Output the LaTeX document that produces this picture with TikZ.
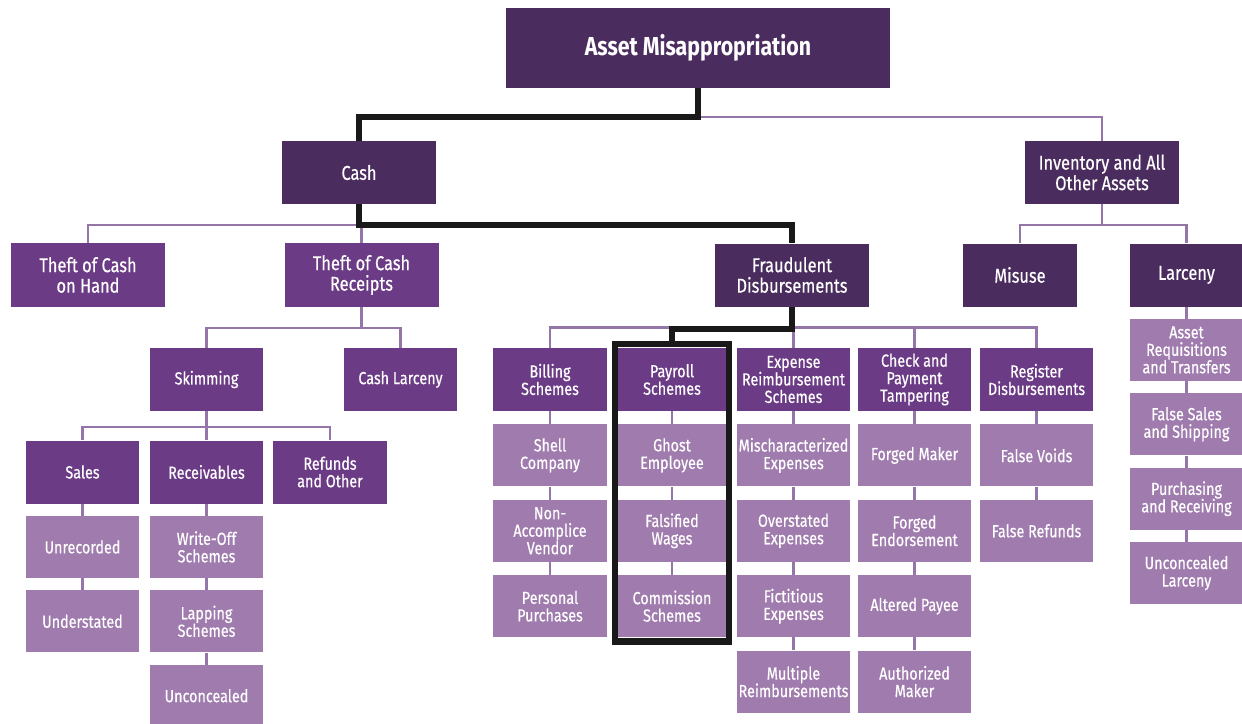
\documentclass[tikz,border=0pt]{standalone}
\usepackage{fontspec}
\setmainfont{Fira Sans}[FakeStretch=0.82]
\newfontfamily\boxfont{Fira Sans}[FakeStretch=0.82, FakeBold=0.5]
\usepackage{tikz}
\usepackage{xcolor}
\usetikzlibrary{positioning,fit}
\definecolor{plumdark}{HTML}{4B2C5E}
\definecolor{plummid}{HTML}{6C3B85}
\definecolor{plumlight}{HTML}{A07BAE}
\definecolor{plumwire}{HTML}{9476A9}
\tikzset{
  box/.style={ % every box of the tree
    rectangle, inner sep=0pt, text=white, align=center,
    font=\boxfont\fontsize{17.5}{17.5}\selectfont
  },
  dark/.style={ % top levels
    box, fill=plumdark, minimum width=154pt, minimum height=63pt,
    font=\boxfont\fontsize{20}{20.5}\selectfont
  },
  darksmall/.style={
    dark, minimum width=113.5pt
  },
  mid/.style={ % scheme families
    box, fill=plummid, minimum width=113.5pt, minimum height=63pt
  },
  midwide/.style={
    dark, fill=plummid, minimum height=64pt
  },
  leaf/.style={ % single schemes
    box, fill=plumlight, minimum width=113.5pt, minimum height=62pt
  },
  wire/.style={
    draw=plumwire, line width=2.5pt
  },
  trail/.style={ % the path that is followed
    draw=black!90, line width=6pt, line join=miter
  },
  frame/.style={
    draw=black!90, line width=6.5pt, inner xsep=0pt, inner ysep=4pt
  }
}
\begin{document}
\begin{tikzpicture}[x=1pt, y=-1pt]
    \useasboundingbox (0,0) rectangle (1242,723);

    \node[dark, minimum width=384pt, minimum height=80pt,
      font=\fontsize{26}{28}\selectfont\bfseries] (root) at (698,48) {Asset Misappropriation};

    \node[dark] (cash) at (359,172.5) {Cash};
    \node[dark] (inv) at (1102,172.5) {Inventory and All\\Other Assets};

    \node[midwide] (hand) at (88,275) {Theft of Cash\\on Hand};
    \node[midwide] (receipts) at (361.5,275) {Theft of Cash\\Receipts};
    \node[dark] (fraud) at (792,275) {Fraudulent\\Disbursements};
    \node[darksmall] (misuse) at (1020,275) {Misuse};
    \node[darksmall] (larc) at (1186.5,275) {Larceny};

    \node[mid] (skim) at (206.5,379.5) {Skimming};
    \node[mid] (cashlarc) at (400.5,379.5) {Cash Larceny};
    \node[mid] (billing) at (550,379.5) {Billing\\Schemes};
    \node[mid] (payroll) at (672,379.5) {Payroll\\Schemes};
    \node[mid] (expense) at (793.5,379.5) {Expense\\Reimbursement\\Schemes};
    \node[mid] (check) at (914.5,379.5) {Check and\\Payment\\Tampering};
    \node[mid] (register) at (1036.5,379.5) {Register\\Disbursements};

    \node[mid] (sales) at (82.5,472) {Sales};
    \node[mid] (recv) at (206.5,472) {Receivables};
    \node[mid] (refunds) at (330,472) {Refunds\\and Other};

    % skimming
    \node[leaf, below=12pt of sales] (unrec) {Unrecorded};
    \node[leaf, below=12pt of unrec] (under) {Understated};
    \node[leaf, below=12pt of recv] (writeoff) {Write-Off\\Schemes};
    \node[leaf, below=12pt of writeoff] (lapping) {Lapping\\Schemes};
    \node[leaf, below=12pt of lapping] (unconc) {Unconcealed};

    % fraudulent disbursements
    \node[leaf, below=13pt of billing] (shell) {Shell\\Company};
    \node[leaf, below=13pt of shell] (nonacc) {Non-\\Accomplice\\Vendor};
    \node[leaf, below=13pt of nonacc] (personal) {Personal\\Purchases};

    \node[leaf, below=13pt of payroll] (ghost) {Ghost\\Employee};
    \node[leaf, below=13pt of ghost] (falsified) {Falsified\\Wages};
    \node[leaf, below=13pt of falsified] (commission) {Commission\\Schemes};

    \node[leaf, below=13pt of expense] (mischar) {Mischaracterized\\Expenses};
    \node[leaf, below=13pt of mischar] (overst) {Overstated\\Expenses};
    \node[leaf, below=13pt of overst] (fictit) {Fictitious\\Expenses};
    \node[leaf, below=13pt of fictit] (multiple) {Multiple\\Reimbursements};

    \node[leaf, below=13pt of check] (fmaker) {Forged Maker};
    \node[leaf, below=13pt of fmaker] (fendorse) {Forged\\Endorsement};
    \node[leaf, below=13pt of fendorse] (altered) {Altered Payee};
    \node[leaf, below=13pt of altered] (authorized) {Authorized\\Maker};

    \node[leaf, below=13pt of register] (fvoids) {False Voids};
    \node[leaf, below=13pt of fvoids] (frefunds) {False Refunds};

    % larceny of other assets
    \node[leaf, below=12pt of larc] (assetreq) {Asset\\Requisitions\\and Transfers};
    \node[leaf, below=12pt of assetreq] (fsales) {False Sales\\and Shipping};
    \node[leaf, below=12pt of fsales] (purch) {Purchasing\\and Receiving};
    \node[leaf, below=12pt of purch] (unconclarc) {Unconcealed\\Larceny};

    \node[frame, fit=(payroll)(commission)] (payframe) {};

    % tree links
    \path[wire] (root.south) -- ++(0,29) -| (inv.north);
    \path[wire] (cash.south) -- ++(0,21) coordinate (cbus);
    \path[wire] (cbus) -| (hand.north);
    \path[wire] (cbus) -| (receipts.north);
    \path[wire] (inv.south) -- ++(0,21) coordinate (ibus);
    \path[wire] (ibus) -| (misuse.north);
    \path[wire] (ibus) -| (larc.north);
    \path[wire] (receipts.south) -- ++(0,21) coordinate (rbus);
    \path[wire] (rbus) -| (skim.north);
    \path[wire] (rbus) -| (cashlarc.north);
    \path[wire] (skim.south) -- ++(0,16) coordinate (sbus);
    \path[wire] (sbus) -| (sales.north);
    \path[wire] (sbus) -| (recv.north);
    \path[wire] (sbus) -| (refunds.north);
    \path[wire] (fraud.south) -- ++(0,21) coordinate (fbus);
    \path[wire] (fbus) -| (billing.north);
    \path[wire] (fbus) -| (expense.north);
    \path[wire] (fbus) -| (check.north);
    \path[wire] (fbus) -| (register.north);

    \path[wire] (sales) -- (unrec) -- (under);
    \path[wire] (recv) -- (writeoff) -- (lapping) -- (unconc);
    \path[wire] (billing) -- (shell) -- (nonacc) -- (personal);
    \path[wire] (payroll) -- (ghost) -- (falsified) -- (commission);
    \path[wire] (expense) -- (mischar) -- (overst) -- (fictit) -- (multiple);
    \path[wire] (check) -- (fmaker) -- (fendorse) -- (altered) -- (authorized);
    \path[wire] (register) -- (fvoids) -- (frefunds);
    \path[wire] (larc) -- (assetreq) -- (fsales) -- (purch) -- (unconclarc);

    % highlighted route
    \path[trail] (root.south) -- ++(0,29) -| (cash.north);
    \path[trail] (cash.south) -- ++(0,21) -| (fraud.north);
    \path[trail] (fraud.south) -- ++(0,22) -| (payframe.north);
  \end{tikzpicture}
\end{document}
